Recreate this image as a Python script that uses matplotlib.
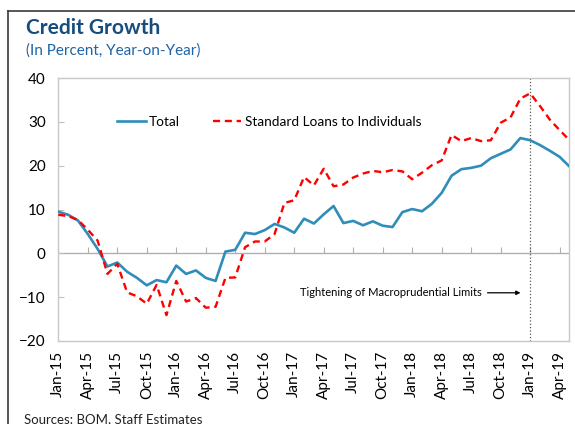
import matplotlib
matplotlib.use("Agg")
import matplotlib.pyplot as plt
from matplotlib.lines import Line2D

plt.rcParams['font.family'] = ['Lato', 'DejaVu Sans']

# meses Jan-15 .. May-19
anios = ['15', '16', '17', '18', '19']
nombres = ['Jan', 'Feb', 'Mar', 'Apr', 'May', 'Jun', 'Jul', 'Aug', 'Sep', 'Oct', 'Nov', 'Dec']
meses = [m + '-' + a for a in anios for m in nombres][:53]

total = [9.5, 8.8, 7.5, 4.4, 1.0, -3.0, -2.1, -4.2, -5.6, -7.3, -6.1, -6.6,
         -2.8, -4.7, -3.9, -5.6, -6.3, 0.4, 0.8, 4.7, 4.4, 5.3, 6.7, 5.9,
         4.7, 7.9, 6.8, 8.9, 10.8, 6.9, 7.4, 6.4, 7.3, 6.3, 6.0, 9.4,
         10.1, 9.6, 11.3, 13.8, 17.7, 19.2, 19.5, 20.0, 21.7, 22.7, 23.7, 26.3,
         25.8, 24.7, 23.4, 22.0, 19.8]

individuos = [8.8, 8.5, 7.6, 5.4, 2.9, -4.7, -2.4, -8.9, -9.8, -11.5, -7.2, -14.1,
              -6.3, -11.0, -10.2, -12.4, -12.2, -5.6, -5.5, 1.4, 2.7, 2.7, 4.4, 11.5,
              12.1, 17.4, 15.5, 19.3, 15.3, 15.7, 17.3, 18.2, 18.8, 18.5, 19.0, 18.7,
              16.9, 18.4, 20.1, 21.2, 27.0, 25.6, 26.3, 25.6, 25.8, 29.8, 31.0, 35.3,
              36.5, 33.6, 30.5, 28.1, 25.8]

etiquetas_x = meses[::3]
posiciones_x = list(range(0, 53, 3))
mes_limites = meses.index('Jan-19')

fig = plt.figure(figsize=(5.75, 4.24), dpi=100)
ax = fig.add_axes([58.3 / 575, 1 - 341 / 424, (569.5 - 58.3) / 575, (341 - 78) / 424])

x = list(range(len(meses)))
ax.plot(x, total, color='#2F8DBA', lw=1.9, label='Total', zorder=3)
ax.plot(x, individuos, color='#FF0000', lw=1.7, ls=(0, (3, 2)), label='Standard Loans to Individuals', zorder=3)

ax.set_xlim(0, 52)
ax.set_ylim(-20, 40)
ax.set_yticks([-20, -10, 0, 10, 20, 30, 40])
ax.set_xticks(posiciones_x)
ax.set_xticklabels(etiquetas_x, rotation=90, fontsize=11)
ax.tick_params(axis='x', length=0, pad=7)
ax.tick_params(axis='y', direction='in', length=4, color='#BFBFBF', labelsize=11, pad=9)
for s in ax.spines.values():
    s.set_color('#C8C8C8')
    s.set_linewidth(1)

# eje en cero con marcas trimestrales
ax.axhline(0, color='#B0B0B0', lw=1, zorder=1)
eje0 = ax.secondary_xaxis(1 / 3)
eje0.set_xticks(posiciones_x)
eje0.set_xticklabels([])
eje0.tick_params(direction='in', length=4, color='#B0B0B0')
eje0.spines['bottom'].set_visible(False)

ax.axvline(mes_limites, color='#555555', lw=0.9, ls=':', zorder=2)
ax.annotate('Tightening of Macroprudential Limits', xy=(mes_limites - 0.7, -9), xytext=(mes_limites - 4.9, -9),
            fontsize=8, ha='right', va='center',
            arrowprops=dict(arrowstyle='-|>', color='black', lw=0.9, mutation_scale=6))

leg = ax.legend(loc='center left', bbox_to_anchor=(0.115, 0.833), ncol=2, frameon=False, fontsize=9.8,
                handlelength=2.1, handletextpad=0.25, columnspacing=2.4, borderaxespad=0, borderpad=0)

# marco exterior
fig.add_artist(Line2D([8 / 575, 8 / 575], [0, 1 - 11 / 424], color='#3A3A3A', lw=1.2, transform=fig.transFigure))
fig.add_artist(Line2D([8 / 575, 1], [1 - 11 / 424, 1 - 11 / 424], color='#3A3A3A', lw=1.2, transform=fig.transFigure))

fig.text(26 / 575, 1 - 28 / 424, 'Credit Growth', fontsize=15, fontweight='bold', color='#164C7E', va='center')
fig.text(26 / 575, 1 - 51 / 424, '(In Percent, Year-on-Year)', fontsize=11, color='#2064A5', va='center')
fig.text(24 / 575, 1 - 419 / 424, 'Sources: BOM, Staff Estimates', fontsize=9.5, color='#222222', va='center')

fig.savefig('out.png', dpi=100)
